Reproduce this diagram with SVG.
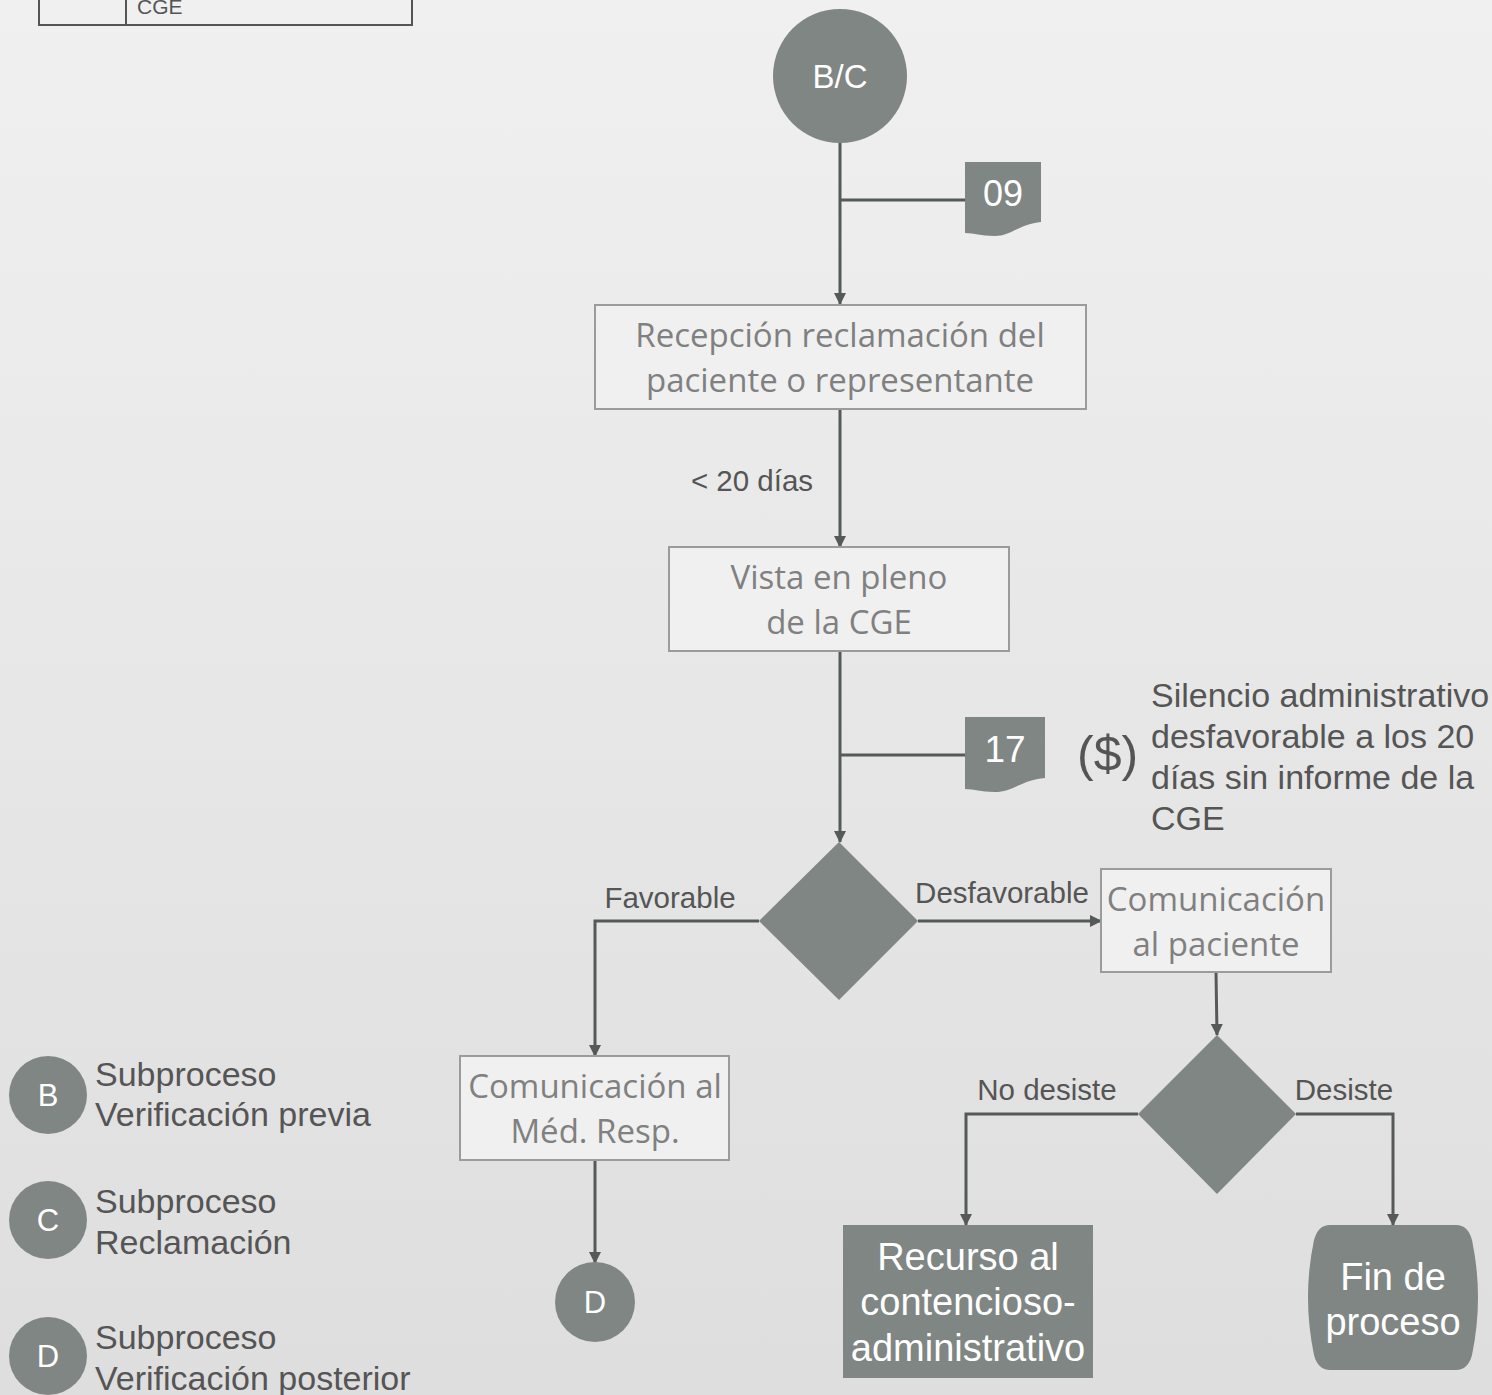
<svg xmlns="http://www.w3.org/2000/svg" width="1492" height="1395" viewBox="0 0 1492 1395">
<defs>
<linearGradient id="bg" x1="0" y1="0" x2="0" y2="1">
<stop offset="0" stop-color="#eff0ef"/>
<stop offset="1" stop-color="#dedede"/>
</linearGradient>
<marker id="arr" markerWidth="12" markerHeight="12" refX="11" refY="6" orient="auto" markerUnits="userSpaceOnUse">
<path d="M0,0 L12,6 L0,12 Z" fill="#555a58"/>
</marker>
</defs>
<style>
.ln{fill:none;stroke:#555a58;stroke-width:3}
.box{fill:#f0f0f0;stroke:#9a9c9b;stroke-width:2}
.dark{fill:#808683}
.bt{font-family:"Open Sans","Noto Sans",sans-serif;font-size:33px;fill:#808080;text-anchor:middle}
.wt{font-family:"Liberation Sans",Arial,sans-serif;fill:#ffffff;text-anchor:middle}
.lb{font-family:"Liberation Sans",Arial,sans-serif;font-size:29.5px;fill:#555555;text-anchor:middle}
.lg{font-family:"Liberation Sans",Arial,sans-serif;font-size:34px;fill:#555555}
</style>
<rect width="1492" height="1395" fill="url(#bg)"/>

<g id="table">
<rect x="39" y="-20" width="373" height="45" fill="none" stroke="#555" stroke-width="2"/>
<line x1="126" y1="-20" x2="126" y2="25" stroke="#555" stroke-width="2"/>
<text x="137" y="14" font-family="Liberation Sans, Arial, sans-serif" font-size="21" fill="#555">CGE</text>
</g>

<g id="connectors">
<line class="ln" x1="840" y1="142" x2="840" y2="304" marker-end="url(#arr)"/>
<line class="ln" x1="840" y1="200" x2="966" y2="200"/>
<line class="ln" x1="840" y1="409" x2="840" y2="547" marker-end="url(#arr)"/>
<line class="ln" x1="840" y1="651" x2="840" y2="842" marker-end="url(#arr)"/>
<line class="ln" x1="840" y1="755" x2="966" y2="755"/>
<polyline class="ln" points="759,921 595,921 595,1056" marker-end="url(#arr)"/>
<line class="ln" x1="918" y1="921" x2="1101" y2="921" marker-end="url(#arr)"/>
<line class="ln" x1="1216" y1="972" x2="1217" y2="1035" marker-end="url(#arr)"/>
<polyline class="ln" points="1138,1114 966,1114 966,1225" marker-end="url(#arr)"/>
<polyline class="ln" points="1296,1114 1393,1114 1393,1225" marker-end="url(#arr)"/>
<line class="ln" x1="595" y1="1160" x2="595" y2="1263" marker-end="url(#arr)"/>
<text class="lb" x="752" y="491">&lt; 20 días</text>
<text class="lb" x="670" y="908">Favorable</text>
<text class="lb" x="1002" y="903">Desfavorable</text>
<text class="lb" x="1047" y="1100">No desiste</text>
<text class="lb" x="1344" y="1100">Desiste</text>
</g>

<g id="start-bc">
<circle class="dark" cx="840" cy="76" r="67"/>
<text class="wt" x="840" y="88" font-size="33">B/C</text>
</g>

<g id="doc-09">
<path class="dark" d="M965,162 H1041 V222 C1020,224 1010,236 995,236 C980,236 975,233 965,233 Z"/>
<text class="wt" x="1003" y="206" font-size="36">09</text>
</g>

<g id="recepcion">
<rect class="box" x="595" y="305" width="491" height="104"/>
<text class="bt" x="840" y="347">Recepción reclamación del</text>
<text class="bt" x="840" y="392">paciente o representante</text>
</g>

<g id="vista">
<rect class="box" x="669" y="547" width="340" height="104"/>
<text class="bt" x="839" y="589">Vista en pleno</text>
<text class="bt" x="839" y="634">de la CGE</text>
</g>

<g id="doc-17">
<path class="dark" d="M965,717 H1045 V778 C1022,780 1012,792 995,792 C980,792 975,789 965,789 Z"/>
<text class="wt" x="1005" y="762" font-size="37">17</text>
</g>

<g id="silencio">
<text x="1077" y="771" font-family="Liberation Sans, Arial, sans-serif" font-size="50" fill="#555">($)</text>
<text class="lg" x="1151" y="707">Silencio administrativo</text>
<text class="lg" x="1151" y="748">desfavorable a los 20</text>
<text class="lg" x="1151" y="789">días sin informe de la</text>
<text class="lg" x="1151" y="830">CGE</text>
</g>

<g id="decision1">
<polygon class="dark" points="839,842 918,921 839,1000 759,921"/>
</g>

<g id="com-paciente">
<rect class="box" x="1101" y="869" width="230" height="103"/>
<text class="bt" x="1216" y="911">Comunicación</text>
<text class="bt" x="1216" y="956">al paciente</text>
</g>

<g id="decision2">
<polygon class="dark" points="1217,1035 1296,1114 1217,1194 1138,1114"/>
</g>

<g id="com-medico">
<rect class="box" x="460" y="1056" width="269" height="104"/>
<text class="bt" x="595" y="1098">Comunicación al</text>
<text class="bt" x="595" y="1143">Méd. Resp.</text>
</g>

<g id="end-d">
<circle class="dark" cx="595" cy="1302" r="40"/>
<text class="wt" x="595" y="1313" font-size="31">D</text>
</g>

<g id="recurso">
<rect class="dark" x="843" y="1225" width="250" height="153"/>
<text class="wt" x="968" y="1270" font-size="38">Recurso al</text>
<text class="wt" x="968" y="1315" font-size="38">contencioso-</text>
<text class="wt" x="968" y="1361" font-size="38">administrativo</text>
</g>

<g id="fin">
<path class="dark" d="M1330,1225 H1456 Q1468,1225 1472,1240 Q1484,1297 1472,1355 Q1468,1370 1456,1370 H1330 Q1318,1370 1314,1355 Q1302,1297 1314,1240 Q1318,1225 1330,1225 Z"/>
<text class="wt" x="1393" y="1290" font-size="38">Fin de</text>
<text class="wt" x="1393" y="1335" font-size="38">proceso</text>
</g>

<g id="legend-b">
<circle class="dark" cx="48" cy="1095" r="39"/>
<text class="wt" x="48" y="1106" font-size="31">B</text>
<text class="lg" x="95" y="1086">Subproceso</text>
<text class="lg" x="95" y="1126">Verificación previa</text>
</g>
<g id="legend-c">
<circle class="dark" cx="48" cy="1220" r="39"/>
<text class="wt" x="48" y="1231" font-size="31">C</text>
<text class="lg" x="95" y="1213">Subproceso</text>
<text class="lg" x="95" y="1254">Reclamación</text>
</g>
<g id="legend-d">
<circle class="dark" cx="48" cy="1356" r="39"/>
<text class="wt" x="48" y="1367" font-size="31">D</text>
<text class="lg" x="95" y="1349">Subproceso</text>
<text class="lg" x="95" y="1390">Verificación posterior</text>
</g>
</svg>
